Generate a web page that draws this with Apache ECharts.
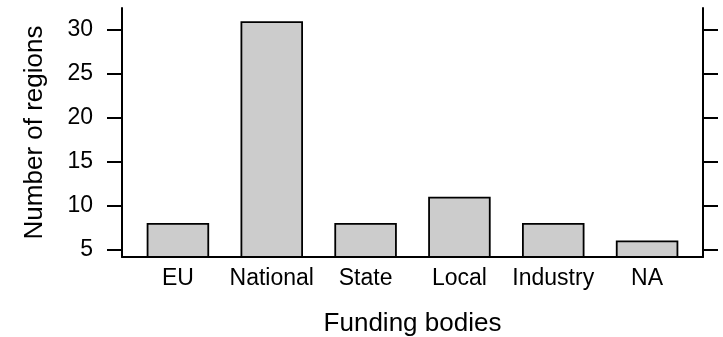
<!DOCTYPE html>
<html>
<head>
<meta charset="utf-8">
<script src="https://cdn.jsdelivr.net/npm/echarts@6/dist/echarts.min.js"></script>
<style>
  html, body { margin: 0; padding: 0; background: #fff; }
  #chart_container { width: 723px; height: 337px; }
</style>
</head>
<body>
<div id="chart_container"></div>
<script>
// data
var categories = ['EU', 'National', 'State', 'Local', 'Industry', 'NA'];
var regions_num = [8, 31, 8, 11, 8, 6];
var y_ticks_min = 5;
var y_ticks_max = 30;
var y_tick_step = 5;

var chart_funding = echarts.init(document.getElementById('chart_container'));
var font_family = '"Liberation Sans", Arial, sans-serif';
var line_black = { color: '#000', width: 2 };

var option = {
  animation: false,
  backgroundColor: '#fff',
  textStyle: { fontFamily: font_family },
  grid: [
    // frame (left, bottom, right lines)
    { left: 122, top: 8, width: 581, height: 249, outerBoundsMode: 'none' },
    // ticks + tick labels
    { left: 122, top: 30, width: 581, height: 219.5, outerBoundsMode: 'none' },
    // bars
    { left: 131, top: 8, width: 563, height: 249, outerBoundsMode: 'none' }
  ],
  xAxis: [
    {
      gridIndex: 0, type: 'value', min: 0, max: 1,
      axisLine: { show: true, onZero: false, lineStyle: line_black },
      axisTick: { show: false }, axisLabel: { show: false }, splitLine: { show: false }
    },
    { gridIndex: 1, type: 'value', show: false },
    {
      gridIndex: 2, type: 'category', data: categories,
      axisLine: { show: false }, axisTick: { show: false }, splitLine: { show: false },
      axisLabel: { color: '#000', fontSize: 23, margin: 10, interval: 0, fontFamily: font_family },
      name: 'Funding bodies', nameLocation: 'middle', nameGap: 54,
      nameTextStyle: { color: '#000', fontSize: 26, fontFamily: font_family }
    }
  ],
  yAxis: [
    {
      gridIndex: 0, type: 'value', min: 0, max: 1, position: 'left',
      axisLine: { show: true, onZero: false, lineStyle: line_black },
      axisTick: { show: false }, axisLabel: { show: false }, splitLine: { show: false },
      name: 'Number of regions', nameLocation: 'middle', nameGap: 74,
      nameTextStyle: { color: '#000', fontSize: 26, fontFamily: font_family }
    },
    {
      gridIndex: 0, type: 'value', min: 0, max: 1, position: 'right',
      axisLine: { show: true, onZero: false, lineStyle: line_black },
      axisTick: { show: false }, axisLabel: { show: false }, splitLine: { show: false }
    },
    {
      gridIndex: 1, type: 'value', position: 'left',
      min: y_ticks_min, max: y_ticks_max, interval: y_tick_step,
      axisLine: { show: false },
      axisTick: { show: true, length: 15, lineStyle: line_black },
      axisLabel: { color: '#000', fontSize: 23, margin: 29, fontFamily: font_family },
      splitLine: { show: false }
    },
    {
      gridIndex: 1, type: 'value', position: 'right',
      min: y_ticks_min, max: y_ticks_max, interval: y_tick_step,
      axisLine: { show: false },
      axisTick: { show: true, length: 15, lineStyle: line_black },
      axisLabel: { show: false }, splitLine: { show: false }
    },
    {
      gridIndex: 2, type: 'value', min: 4.12, max: 32.5, show: false
    }
  ],
  series: [
    {
      name: 'Number of regions',
      type: 'bar',
      xAxisIndex: 2,
      yAxisIndex: 4,
      data: regions_num,
      barWidth: 62.5,
      clip: true,
      itemStyle: { color: '#cccccc', borderColor: '#000', borderWidth: 1.8 }
    }
  ]
};
chart_funding.setOption(option);
</script>
</body>
</html>
